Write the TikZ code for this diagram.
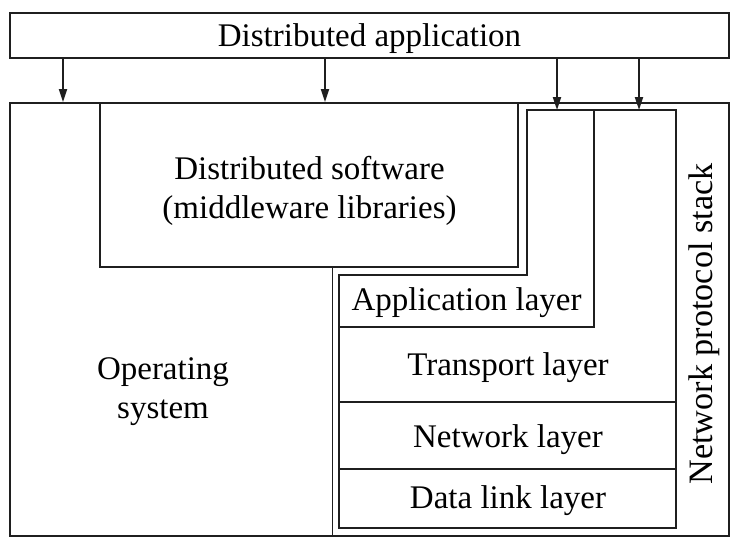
\documentclass[tikz,border=0pt]{standalone}
\usepackage{fontspec}
\setmainfont{Liberation Serif}
\usetikzlibrary{arrows.meta}
\begin{document}
\begin{tikzpicture}[x=0.5pt,y=-0.5pt,
  line width=0.9pt,
  ink/.style={draw=black!88},
  lbl/.style={font=\fontsize{16.5}{19.5}\selectfont, align=center, inner sep=0pt, text=black},
  box/.style={ink, inner sep=0pt},
  feed/.style={ink, -{Triangle[length=6.5pt,width=4pt]}},
]
\useasboundingbox (0,0) rectangle (737,551);

% top bar and outer frame
\node[box, minimum width=359.5pt, minimum height=22.5pt] (app) at (369.5,35.5) {};
\node[lbl] (apptxt) at (369.5,38.5) {Distributed application};
\node[box, minimum width=359.5pt, minimum height=216.5pt] (outer) at (369.5,319.5) {};

% middleware block hanging from the top edge
\node[box, minimum width=209pt, minimum height=82pt] (mw) at (309,185) {};
\node[lbl] (mwtxt) at (309.5,191) {Distributed software\\(middleware libraries)};

% operating system boundary
\coordinate (osTop) at (332.5,267);
\coordinate (osBot) at (332.5,536);
\draw[ink] (osTop) -- (osBot);
\node[lbl, text width=80pt] (os) at (163,391.5) {Operating\\system};

% protocol stack outline
\coordinate (sA) at (339,275);
\coordinate (sB) at (527,275);
\coordinate (sC) at (527,110);
\coordinate (sD) at (676,110);
\coordinate (sE) at (676,528);
\coordinate (sF) at (339,528);
\draw[ink] (sA) -- (sB) -- (sC) -- (sD) -- (sE) -- (sF) -- cycle;

% layer separators
\coordinate (aTop) at (594,110);
\coordinate (aCorner) at (594,327);
\coordinate (aLeft) at (339,327);
\draw[ink] (aTop) -- (aCorner) -- (aLeft);
\coordinate (nL) at (339,402);
\coordinate (nR) at (676,402);
\draw[ink] (nL) -- (nR);
\coordinate (dL) at (339,469);
\coordinate (dR) at (676,469);
\draw[ink] (dL) -- (dR);

\node[lbl] (la) at (466.5,303) {Application layer};
\node[lbl] (lt) at (508,367.5) {Transport layer};
\node[lbl] (ln) at (508,439.5) {Network layer};
\node[lbl] (ld) at (508,500.5) {Data link layer};
\node[lbl, font=\fontsize{17.1}{20}\selectfont, rotate=90] (stack) at (704,324) {Network protocol stack};

% calls from the application downwards
\coordinate (x1) at (63,0);
\coordinate (x2) at (325,0);
\coordinate (x3) at (557,0);
\coordinate (x4) at (639,0);
\draw[feed] (app.south -| x1) -- (outer.north -| x1);
\draw[feed] (app.south -| x2) -- (outer.north -| x2);
\draw[feed] (app.south -| x3) -- (sC -| x3);
\draw[feed] (app.south -| x4) -- (sD -| x4);
\end{tikzpicture}
\end{document}
